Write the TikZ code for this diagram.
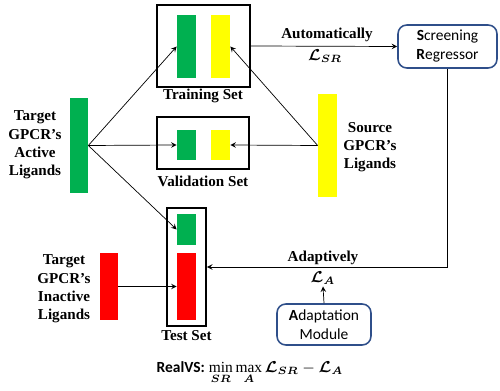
\documentclass[tikz,border=0pt]{standalone}
\usepackage{amsmath}
\usepackage{fontspec}
\setmainfont{Liberation Serif}
\newfontfamily\calfont{Carlito}
\usetikzlibrary{arrows}
\definecolor{ligGreen}{HTML}{00B050}
\definecolor{ligYellow}{HTML}{FFFF00}
\definecolor{ligRed}{HTML}{FF0000}
\definecolor{modBlue}{HTML}{2F4F8A}

\begin{document}
\begin{tikzpicture}[>=stealth, x=0.02cm, y=-0.02cm,
        bar/.style={inner sep=0pt, minimum width=0.38cm},
        setbox/.style={draw, line width=1.1pt, inner sep=0pt},
        modbox/.style={draw=modBlue, line width=0.9pt, rounded corners=5pt, align=center,
            inner sep=0pt, font=\calfont\fontsize{8.8}{10.8}\selectfont},
        lbl/.style={font=\bfseries\fontsize{8.6}{10.4}\selectfont, align=center, inner sep=1pt}]
        \useasboundingbox (0,0) rectangle (500,391);
        % the three sets
        \node[setbox, minimum width=1.86cm, minimum height=1.64cm] (trn) at (203.5,46) {};
        \node[setbox, minimum width=1.84cm, minimum height=1.04cm] (val) at (203,143) {};
        \node[setbox, minimum width=0.78cm, minimum height=2.36cm] (tst) at (186.5,267) {};
        \node[lbl] (trnlbl) at (203,96) {Training Set};
        \node[lbl] (vallbl) at (203,181) {Validation Set};
        \node[lbl] (tstlbl) at (186.5,336) {Test Set};
        \node[bar, fill=ligGreen, minimum height=1.26cm] (trnact) at (186.5,46.5) {};
        \node[bar, fill=ligYellow, minimum height=1.26cm] (trnsrc) at (220.5,46.5) {};
        \node[bar, fill=ligGreen, minimum height=0.6cm] (valact) at (186.5,145) {};
        \node[bar, fill=ligYellow, minimum height=0.6cm] (valsrc) at (220.5,145) {};
        \node[bar, fill=ligGreen, minimum height=0.62cm] (tstact) at (186.5,229.5) {};
        \node[bar, fill=ligRed, minimum height=1.34cm] (tstinact) at (186.5,286.5) {};
        % ligand pools
        \node[bar, fill=ligGreen, minimum width=0.36cm, minimum height=1.9cm] (act) at (79,145.5) {};
        \node[bar, fill=ligRed, minimum width=0.36cm, minimum height=1.34cm] (inact) at (109,286.5) {};
        \node[bar, fill=ligYellow, minimum height=2.06cm] (src) at (327.5,145.5) {};
        \node[lbl] (actlbl) at (35,145) {Target\\GPCR’s\\Active\\Ligands};
        \node[lbl] (inactlbl) at (64,289) {Target\\GPCR’s\\Inactive\\Ligands};
        \node[lbl] (srclbl) at (370,147) {Source\\GPCR’s\\Ligands};
        \draw[->] (act.east) -- (trnact.west);
        \draw[->] (act.east) -- (valact.west);
        \draw[->] (act.east) -- (tstact.west);
        \draw[->] (src.west) -- (trnsrc.east);
        \draw[->] (src.west) -- (valsrc.east);
        \draw[->] (inact.east) -- (tstinact.west);
        % modules
        \node[modbox, minimum width=1.98cm, minimum height=0.86cm] (sr) at (447.5,46.5)
            {\textbf{S}creening\\\textbf{R}egressor};
        \node[modbox, minimum width=1.88cm, minimum height=0.82cm] (am) at (324,324.5)
            {\textbf{A}daptation\\Module};
        \node[lbl] (autolbl) at (327,35) {Automatically};
        \node[lbl] (lsr) at (325,56) {$\boldsymbol{\mathcal{L}_{SR}}$};
        \node[lbl] (adalbl) at (323,258) {Adaptively};
        \node[lbl] (la) at (323,278) {$\boldsymbol{\mathcal{L}_{A}}$};
        \draw[->] (trn.east) -- (sr.west);
        \draw[->] (sr.south) |- (tst.east);
        \draw[->] (am.north) -- (la.south);
        % objective
        \node[inner sep=0pt, font=\fontsize{8.8}{10}\selectfont] (obj) at (250,373)
            {{\calfont\bfseries RealVS:} $\min\limits_{\boldsymbol{SR}}\max\limits_{\boldsymbol{A}}
            \boldsymbol{\mathcal{L}_{SR}} - \boldsymbol{\mathcal{L}_{A}}$};
    \end{tikzpicture}
\end{document}
